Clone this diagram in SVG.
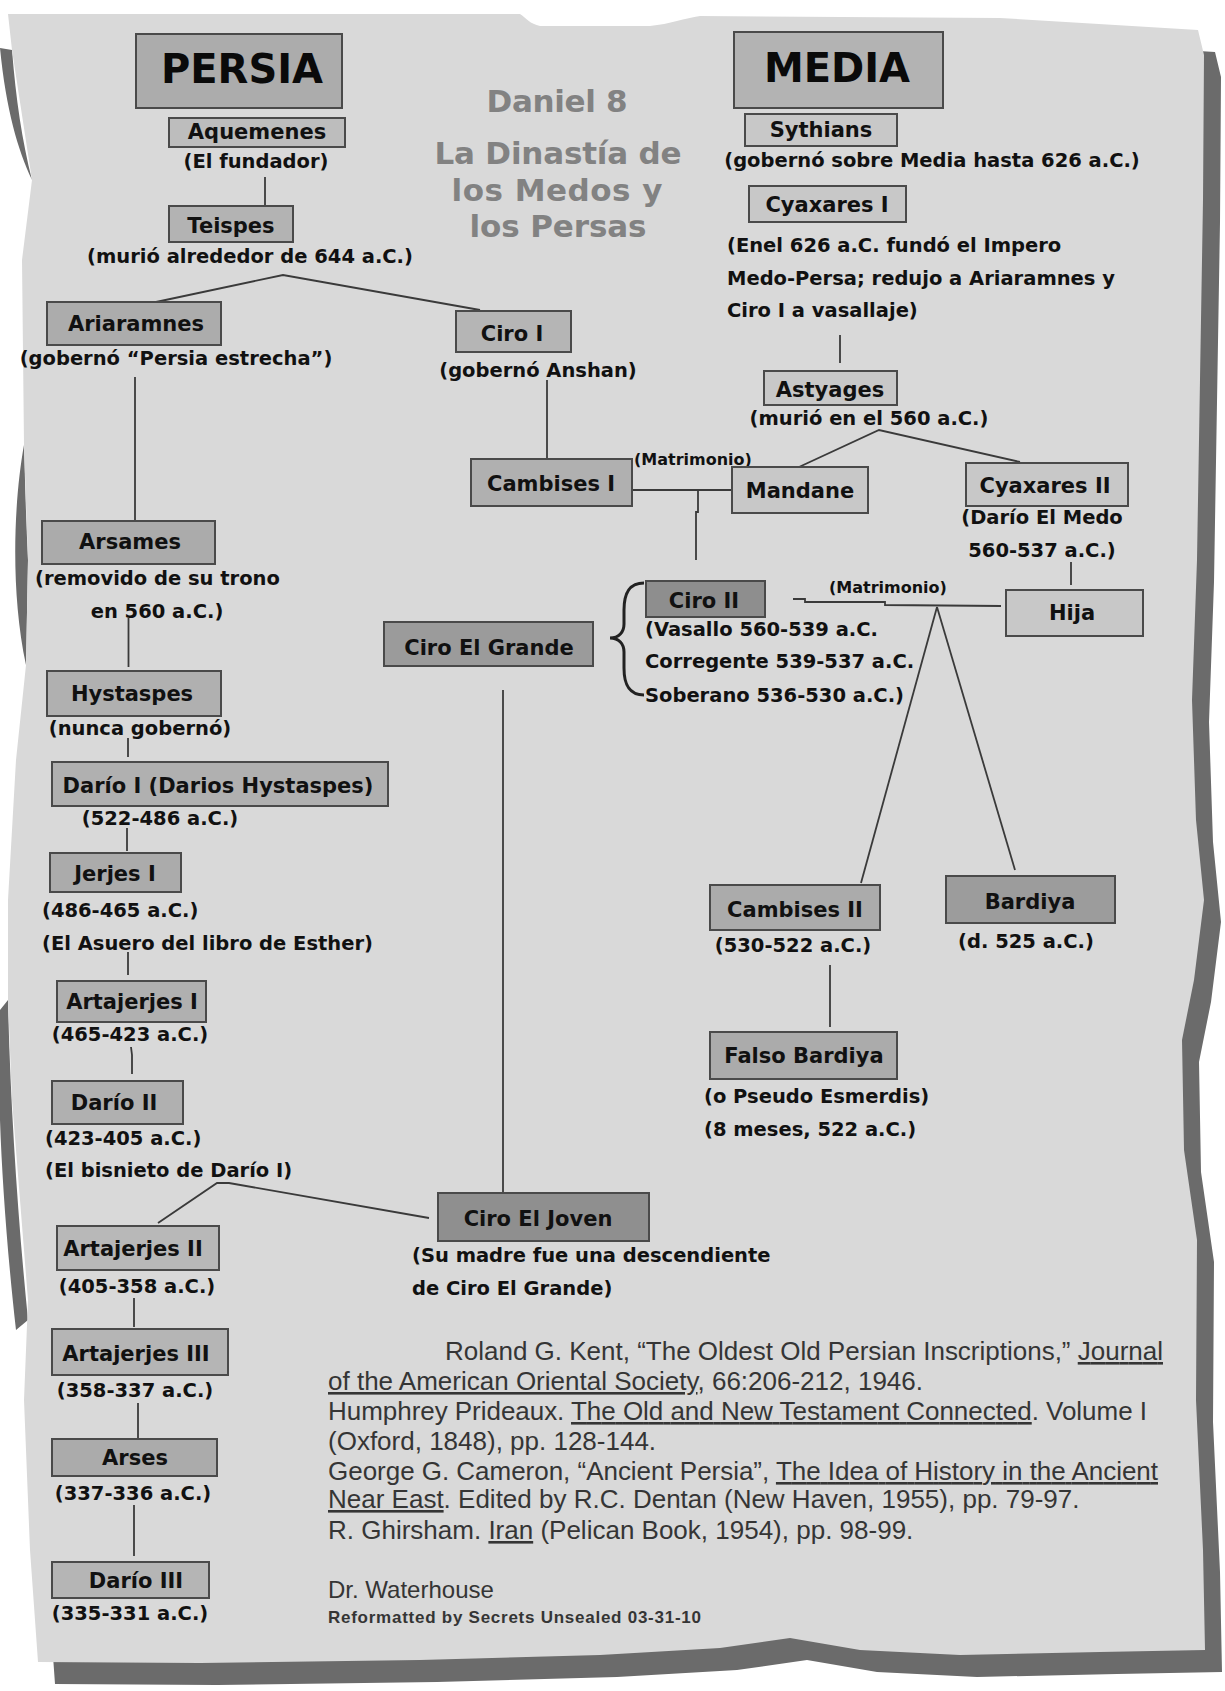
<svg xmlns="http://www.w3.org/2000/svg" width="1225" height="1691" viewBox="0 0 1225 1691">
<style>
.shadow{fill:#6b6b6b}
.paper{fill:#d9d9d9}
.box{stroke:#4a4a4a;stroke-width:2}
.t{font-family:"DejaVu Sans",sans-serif;font-weight:bold;font-size:21px;fill:#111;text-anchor:middle}
.big{font-family:"DejaVu Sans",sans-serif;font-weight:bold;font-size:40px;fill:#0a0a0a;text-anchor:middle}
.s{font-family:"DejaVu Sans",sans-serif;font-weight:bold;font-size:19.5px;fill:#111}
.c{text-anchor:middle}
.m{font-family:"DejaVu Sans",sans-serif;font-weight:bold;font-size:16px;fill:#111}
.ttl{font-family:"DejaVu Sans",sans-serif;font-weight:bold;font-size:31px;fill:#828282;text-anchor:middle}
.ref{font-family:"Liberation Sans",Arial,sans-serif;font-size:26px;fill:#353535}
.conn line,.conn polyline,.conn path{stroke:#3a3a3a;stroke-width:1.8;fill:none}
</style>
<defs>
<path id="paperPath" d="M8,14 L520,14 C526,18 530,24 540,26 L650,26 C670,24 685,18 700,16 L1000,18 L1198,30 L1204,55 L1203,200 L1200,380 L1197,560 L1192,700 L1196,820 L1204,900 L1194,980 L1182,1040 L1184,1150 L1197,1240 L1196,1400 L1203,1550 L1205,1650 L1100,1652 L960,1655 L860,1650 L790,1638 L720,1648 L600,1655 L420,1660 L200,1663 L38,1662 L30,1550 L24,1400 L28,1300 L20,1200 L12,1100 L8,1000 L8,900 L16,760 L26,665 L28,560 L24,445 L22,260 L32,180 L12,50 Z"/>
</defs>
<rect x="0" y="0" width="1225" height="1691" fill="#ffffff"/>
<g id="page">
<use href="#paperPath" class="shadow" transform="translate(17,22)"/>
<path class="shadow" d="M0,48 L12,50 C16,100 22,140 32,180 C18,150 6,110 0,48 Z"/>
<path class="shadow" d="M24,445 C14,500 10,590 26,665 L28,560 C26,520 25,480 24,445 Z"/>
<path class="shadow" d="M0,1010 L8,1000 C10,1100 18,1220 28,1320 L16,1330 C8,1260 2,1180 0,1120 Z"/>
<use href="#paperPath" class="paper"/>
</g>

<g id="title">
<text class="ttl" x="557" y="112" textLength="141">Daniel 8</text>
<text class="ttl" x="558" y="164" textLength="247">La Dinastía de</text>
<text class="ttl" x="557" y="201" textLength="211">los Medos y</text>
<text class="ttl" x="558" y="237" textLength="177">los Persas</text>
</g>

<g class="conn" id="connectors">
<line x1="265" y1="177" x2="265" y2="206"/>
<polyline points="156,302 283,275 480,310"/>
<line x1="135" y1="377" x2="135" y2="521"/>
<line x1="547" y1="380" x2="547" y2="459"/>
<line x1="840" y1="335" x2="840" y2="363"/>
<polyline points="799,467 879,430 1020,462"/>
<line x1="632" y1="490" x2="732" y2="490"/>
<polyline points="698,490 698,512 696,512 696,560"/>
<line x1="1071" y1="562" x2="1071" y2="585"/>
<polyline points="793,599 805,599 805,602 885,602 885,605 1001,606"/>
<line x1="937" y1="607" x2="861" y2="883"/>
<line x1="937" y1="607" x2="1015" y2="870"/>
<line x1="830" y1="965" x2="830" y2="1027"/>
<line x1="128.5" y1="618" x2="128.5" y2="667"/>
<line x1="128" y1="738" x2="128" y2="757"/>
<line x1="127" y1="828" x2="127" y2="851"/>
<line x1="128" y1="952" x2="128" y2="975"/>
<polyline points="131,1047 132,1055 132,1074"/>
<polyline points="158,1223 217,1183 229,1183 429,1218"/>
<line x1="503" y1="690" x2="503" y2="1193"/>
<line x1="134" y1="1298" x2="134" y2="1327"/>
<line x1="138" y1="1403" x2="138" y2="1438"/>
<line x1="134" y1="1505" x2="134" y2="1556"/>
<path d="M644,583 C628,583 624,595 624,610 L624,624 C624,632 619,638 610,638 C619,638 624,644 624,652 L624,668 C624,683 628,695 644,695" style="stroke:#222;stroke-width:3"/>
</g>

<g id="n-persia"><rect class="box" x="136" y="34" width="206" height="74" fill="#acacac"/><text class="big" x="242" y="83">PERSIA</text></g>
<g id="n-media"><rect class="box" x="734" y="32" width="209" height="76" fill="#b3b3b3"/><text class="big" x="837" y="82">MEDIA</text></g>

<g id="n-aquemenes"><rect class="box" x="169" y="118" width="176" height="29" fill="#bdbdbd"/><text class="t" x="257" y="139">Aquemenes</text><text class="s c" x="256" y="168">(El fundador)</text></g>
<g id="n-teispes"><rect class="box" x="169" y="206" width="124" height="36" fill="#b3b3b3"/><text class="t" x="231" y="233">Teispes</text><text class="s c" x="250" y="263">(murió alrededor de 644 a.C.)</text></g>
<g id="n-ariaramnes"><rect class="box" x="47" y="302" width="174" height="43" fill="#acacac"/><text class="t" x="136" y="331">Ariaramnes</text><text class="s c" x="176" y="365">(gobernó “Persia estrecha”)</text></g>
<g id="n-ciro1"><rect class="box" x="456" y="311" width="115" height="41" fill="#b5b5b5"/><text class="t" x="512" y="341">Ciro I</text><text class="s c" x="538" y="377">(gobernó Anshan)</text></g>

<g id="n-sythians"><rect class="box" x="745" y="114" width="152" height="32" fill="#c8c8c8"/><text class="t" x="821" y="137">Sythians</text><text class="s c" x="932" y="167">(gobernó sobre Media hasta 626 a.C.)</text></g>
<g id="n-cyaxares1"><rect class="box" x="749" y="186" width="157" height="36" fill="#c8c8c8"/><text class="t" x="827" y="212">Cyaxares I</text>
<text class="s" x="727" y="252">(Enel 626 a.C. fundó el Impero</text>
<text class="s" x="727" y="285">Medo-Persa; redujo a Ariaramnes y</text>
<text class="s" x="727" y="317">Ciro I a vasallaje)</text></g>
<g id="n-astyages"><rect class="box" x="764" y="371" width="133" height="34" fill="#c8c8c8"/><text class="t" x="830" y="397">Astyages</text><text class="s c" x="869" y="425">(murió en el 560 a.C.)</text></g>

<g id="n-cambises1"><rect class="box" x="471" y="459" width="161" height="47" fill="#b0b0b0"/><text class="t" x="551" y="491">Cambises I</text></g>
<g id="n-matrimonio1"><text class="m" x="634" y="465">(Matrimonio)</text></g>
<g id="n-mandane"><rect class="box" x="732" y="467" width="136" height="46" fill="#c8c8c8"/><text class="t" x="800" y="498">Mandane</text></g>
<g id="n-cyaxares2"><rect class="box" x="966" y="463" width="162" height="43" fill="#c8c8c8"/><text class="t" x="1045" y="493">Cyaxares II</text><text class="s c" x="1042" y="524">(Darío El Medo</text><text class="s c" x="1042" y="557">560-537 a.C.)</text></g>
<g id="n-hija"><rect class="box" x="1006" y="590" width="137" height="46" fill="#c8c8c8"/><text class="t" x="1072" y="620">Hija</text></g>
<g id="n-matrimonio2"><text class="m" x="829" y="593">(Matrimonio)</text></g>
<g id="n-ciro2"><rect class="box" x="646" y="581" width="119" height="36" fill="#8e8e8e"/><text class="t" x="704" y="608">Ciro II</text>
<text class="s" x="645" y="636">(Vasallo 560-539 a.C.</text>
<text class="s" x="645" y="668">Corregente 539-537 a.C.</text>
<text class="s" x="645" y="702">Soberano 536-530 a.C.)</text></g>
<g id="n-cirogrande"><rect class="box" x="384" y="622" width="209" height="44" fill="#9b9b9b"/><text class="t" x="489" y="655">Ciro El Grande</text></g>
<g id="n-cambises2"><rect class="box" x="710" y="885" width="170" height="45" fill="#ababab"/><text class="t" x="795" y="917">Cambises II</text><text class="s c" x="793" y="952">(530-522 a.C.)</text></g>
<g id="n-bardiya"><rect class="box" x="946" y="876" width="169" height="47" fill="#9c9c9c"/><text class="t" x="1030" y="909">Bardiya</text><text class="s c" x="1026" y="948">(d. 525 a.C.)</text></g>
<g id="n-falso"><rect class="box" x="710" y="1032" width="187" height="47" fill="#ababab"/><text class="t" x="804" y="1063">Falso Bardiya</text>
<text class="s" x="704" y="1103">(o Pseudo Esmerdis)</text>
<text class="s" x="704" y="1136">(8 meses, 522 a.C.)</text></g>
<g id="n-cirojoven"><rect class="box" x="438" y="1193" width="211" height="48" fill="#8f8f8f"/><text class="t" x="538" y="1226">Ciro El Joven</text>
<text class="s" x="412" y="1262">(Su madre fue una descendiente</text>
<text class="s" x="412" y="1295">de Ciro El Grande)</text></g>

<g id="n-arsames"><rect class="box" x="42" y="521" width="173" height="43" fill="#ababab"/><text class="t" x="130" y="549">Arsames</text><text class="s" x="35" y="585">(removido de su trono</text><text class="s c" x="157" y="618">en 560 a.C.)</text></g>
<g id="n-hystaspes"><rect class="box" x="47" y="671" width="174" height="45" fill="#b0b0b0"/><text class="t" x="132" y="701">Hystaspes</text><text class="s c" x="140" y="735">(nunca gobernó)</text></g>
<g id="n-dario1"><rect class="box" x="52" y="762" width="336" height="44" fill="#b0b0b0"/><text class="t" x="218" y="793">Darío I (Darios Hystaspes)</text><text class="s c" x="160" y="825">(522-486 a.C.)</text></g>
<g id="n-jerjes1"><rect class="box" x="50" y="853" width="131" height="39" fill="#ababab"/><text class="t" x="115" y="881">Jerjes I</text><text class="s" x="42" y="917">(486-465 a.C.)</text><text class="s" x="42" y="950">(El Asuero del libro de Esther)</text></g>
<g id="n-artajerjes1"><rect class="box" x="57" y="981" width="149" height="41" fill="#b0b0b0"/><text class="t" x="132" y="1009">Artajerjes I</text><text class="s c" x="130" y="1041">(465-423 a.C.)</text></g>
<g id="n-dario2"><rect class="box" x="52" y="1081" width="131" height="43" fill="#b0b0b0"/><text class="t" x="114" y="1110">Darío II</text><text class="s" x="45" y="1145">(423-405 a.C.)</text><text class="s" x="45" y="1177">(El bisnieto de Darío I)</text></g>
<g id="n-artajerjes2"><rect class="box" x="57" y="1226" width="162" height="44" fill="#b8b8b8"/><text class="t" x="133" y="1256">Artajerjes II</text><text class="s c" x="137" y="1293">(405-358 a.C.)</text></g>
<g id="n-artajerjes3"><rect class="box" x="52" y="1329" width="176" height="46" fill="#b5b5b5"/><text class="t" x="136" y="1361">Artajerjes III</text><text class="s c" x="135" y="1397">(358-337 a.C.)</text></g>
<g id="n-arses"><rect class="box" x="52" y="1439" width="165" height="37" fill="#ababab"/><text class="t" x="135" y="1465">Arses</text><text class="s c" x="133" y="1500">(337-336 a.C.)</text></g>
<g id="n-dario3"><rect class="box" x="52" y="1562" width="157" height="36" fill="#b5b5b5"/><text class="t" x="136" y="1588">Darío III</text><text class="s c" x="130" y="1620">(335-331 a.C.)</text></g>

<g id="references">
<text class="ref" x="445" y="1360" textLength="718">Roland G. Kent, “The Oldest Old Persian Inscriptions,” <tspan text-decoration="underline">Journal</tspan></text>
<text class="ref" x="328" y="1390"><tspan text-decoration="underline">of the American Oriental Society</tspan>, 66:206-212, 1946.</text>
<text class="ref" x="328" y="1420" textLength="819">Humphrey Prideaux. <tspan text-decoration="underline">The Old and New Testament Connected</tspan>. Volume I</text>
<text class="ref" x="328" y="1450">(Oxford, 1848), pp. 128-144.</text>
<text class="ref" x="328" y="1480" textLength="830">George G. Cameron, “Ancient Persia”, <tspan text-decoration="underline">The Idea of History in the Ancient</tspan></text>
<text class="ref" x="328" y="1508"><tspan text-decoration="underline">Near East</tspan>. Edited by R.C. Dentan (New Haven, 1955), pp. 79-97.</text>
<text class="ref" x="328" y="1539">R. Ghirsham. <tspan text-decoration="underline">Iran</tspan> (Pelican Book, 1954), pp. 98-99.</text>
<text class="ref" x="328" y="1598" style="font-size:24px">Dr. Waterhouse</text>
<text class="ref" x="328" y="1623" style="font-size:17px;font-weight:bold" textLength="373">Reformatted by Secrets Unsealed 03-31-10</text>
</g>
</svg>
